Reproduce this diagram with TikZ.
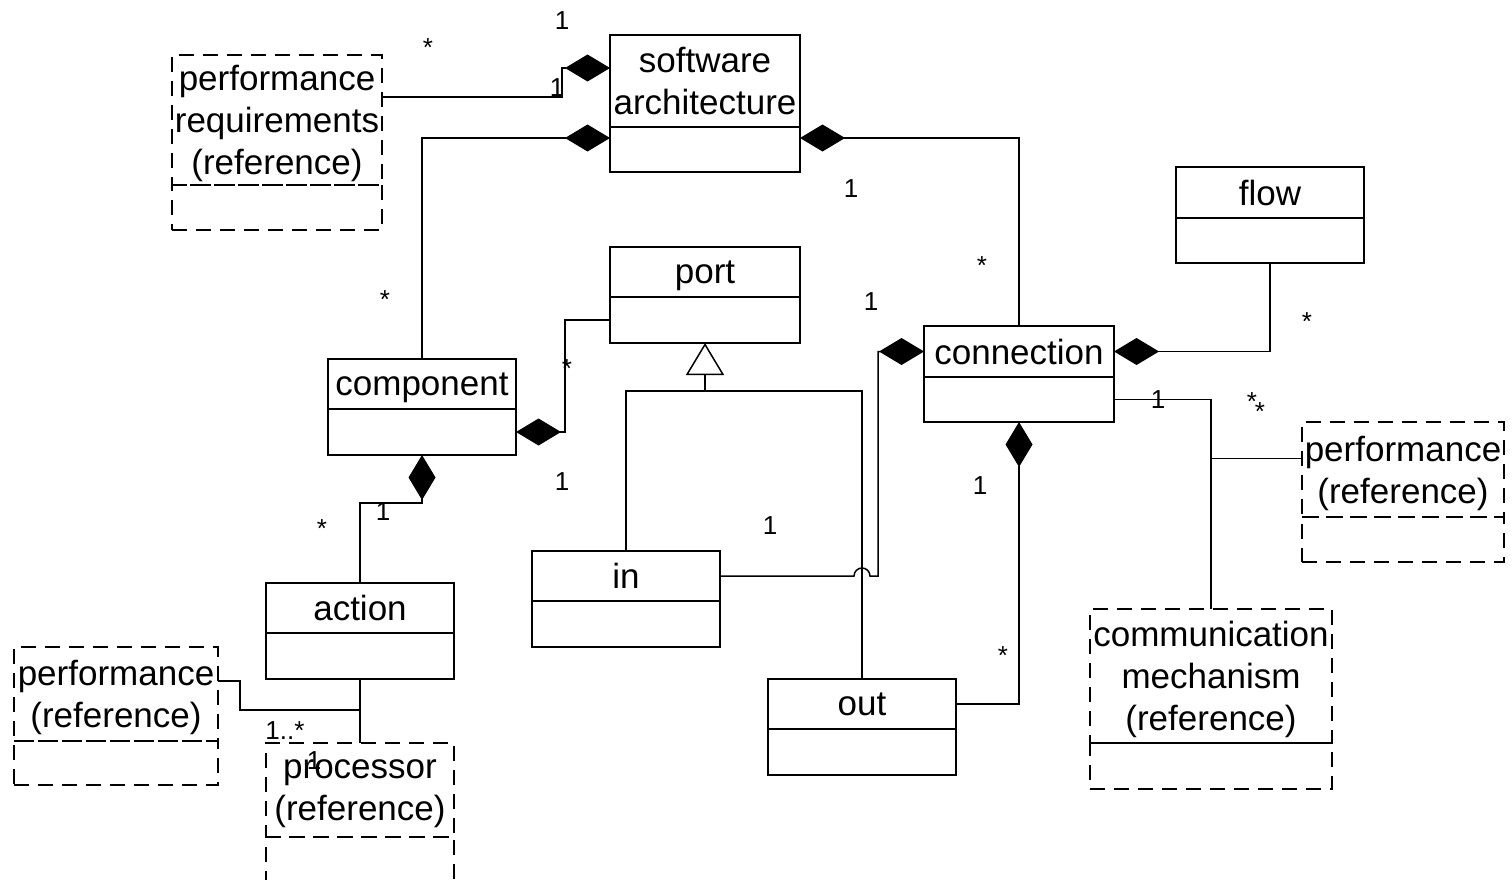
\documentclass[tikz,border=0pt]{standalone}
\usepackage{fontspec}
\setmainfont{Liberation Sans}
\usetikzlibrary{
    positioning,
    arrows.meta
}

\begin{document}
\begin{tikzpicture}
[
    x=1pt,
    y=-1pt,
    font=\fontsize{35}{42}\selectfont,
    umlclass/.style={
        rectangle,
        draw=black,
        line width=1.5pt,
        outer sep=0pt,
        inner sep=0pt,
        align=center,
        text depth=0pt,
        minimum width=188pt,
        minimum height=50pt
    },
    umlbody/.style={
        umlclass,
        minimum height=46pt
    },
    refclass/.style={
        umlclass,
        dash pattern=on 15pt off 9pt
    },
    refbody/.style={
        refclass,
        minimum height=45pt
    },
    link/.style={
        line width=1.5pt
    },
    compose/.style={
        link,
        -{Diamond[length=45pt,width=27pt]}
    },
    inherit/.style={
        link,
        -{Triangle[length=32pt,width=38pt,fill=white]}
    },
    mult/.style={
        font=\fontsize{26}{30}\selectfont,
        anchor=base,
        inner sep=0pt
    }
]

\useasboundingbox (0,0) rectangle (1512,880);


% =====================
% CLASSES
% =====================

\node[
umlclass,
minimum width=190pt,
minimum height=92pt
]
(arch) at (705,81)
{software\\architecture};

\node[
umlbody,
minimum width=190pt,
minimum height=45pt,
below=0pt of arch
]
(archB) {};


\node[
umlclass,
minimum width=190pt
]
(port) at (705,272)
{port};

\node[
umlbody,
minimum width=190pt,
below=0pt of port
]
(portB) {};


\node[
umlclass,
minimum height=51pt
]
(flow) at (1270,192.5)
{flow};

\node[
umlbody,
minimum height=45pt,
below=0pt of flow
]
(flowB) {};


\node[
umlclass,
minimum width=190pt,
minimum height=51pt
]
(conn) at (1019,351.5)
{connection};

\node[
umlbody,
minimum width=190pt,
minimum height=45pt,
below=0pt of conn
]
(connB) {};


\node[
umlclass
]
(comp) at (422,384)
{component};

\node[
umlbody,
below=0pt of comp
]
(compB) {};


\node[
umlclass
]
(action) at (360,608)
{action};

\node[
umlbody,
below=0pt of action
]
(actionB) {};


\node[
umlclass
]
(in) at (626,576)
{in};

\node[
umlbody,
below=0pt of in
]
(inB) {};


\node[
umlclass
]
(out) at (862,704)
{out};

\node[
umlbody,
below=0pt of out
]
(outB) {};



% =====================
% REFERENCES
% =====================

\node[
refclass,
minimum width=210pt,
minimum height=130pt
]
(perfreq) at (277,120)
{performance\\requirements\\(reference)};

\node[
refbody,
minimum width=210pt,
below=0pt of perfreq
]
(perfreqB) {};


\node[
refclass,
minimum width=202pt,
minimum height=95pt
]
(perfR) at (1403,469.5)
{performance\\(reference)};

\node[
refbody,
minimum width=202pt,
below=0pt of perfR
]
(perfRB) {};


\node[
refclass,
minimum width=242pt,
minimum height=134pt
]
(comm) at (1211,676)
{communication\\mechanism\\(reference)};

\node[
refbody,
minimum width=242pt,
minimum height=46pt,
below=0pt of comm
]
(commB) {};


\node[
refclass,
minimum width=204pt,
minimum height=94pt
]
(perfL) at (116,694)
{performance\\(reference)};

\node[
refbody,
minimum width=204pt,
minimum height=44pt,
below=0pt of perfL
]
(perfLB) {};


\node[
refclass,
minimum height=94pt
]
(proc) at (360,790)
{processor\\(reference)};

\node[
refbody,
minimum height=46pt,
below=0pt of proc
]
(procB) {};



% =====================
% CONNECTIONS
% =====================

\draw[compose]
([yshift=23pt]perfreq.east)
-|
([xshift=-48pt,yshift=13pt]arch.west)
--
([yshift=13pt]arch.west);


\draw[compose]
(comp.north)
|-
([yshift=11.5pt]archB.west);


\draw[compose]
(conn.north)
|-
([yshift=11.5pt]archB.east);


\draw[compose]
(flowB.south)
|-
(conn.east);


\draw[compose]
(portB.west)
--
++(-45,0)
|-
(compB.east);


\coordinate (gen) at ([yshift=-48pt]portB.south);

\draw[link]
(in.north)
|-
(gen)
-|
(out.north);

\draw[inherit]
(gen)
--
(portB.south);


\coordinate (hop) at (out.north |- in.east);

\draw[compose]
(in.east)
--
([xshift=-8pt]hop)
arc[start angle=180, end angle=360, radius=8]
--
++(8,0)
|-
(conn.west);


\draw[compose]
(out.east)
-|
(connB.south);


\draw[link]
(connB.east)
-|
(comm.north);

\coordinate (perfJ) at ([yshift=11pt]perfR.west);

\draw[link]
(perfJ)
--
(comm.north |- perfJ);


\draw[compose]
(action.north)
--
++(0,-80)
-|
(compB.south);


\draw[link]
(actionB.south)
--
(proc.north);

\draw[link]
([yshift=13pt]perfL.east)
--
++(22,0)
|-
([yshift=33pt]proc.north);



% =====================
% MULTIPLICITIES
% =====================

\node[mult] (m1) at (562,30) {1};
\node[mult] (m2) at (428,57) {*};
\node[mult] (m3) at (557,97) {1};
\node[mult] (m4) at (385,308) {*};
\node[mult] (m5) at (851,197) {1};
\node[mult] (m6) at (982,274) {*};
\node[mult] (m7) at (871,310) {1};
\node[mult] (m8) at (1307,330) {*};
\node[mult] (m9) at (567,377) {*};
\node[mult] (m10) at (562,490) {1};
\node[mult] (m11) at (770,534) {1};
\node[mult] (m12) at (980,494) {1};
\node[mult] (m13) at (1003,664) {*};
\node[mult] (m14) at (1158,408) {1};
\node[mult] (m15) at (1252,410) {*};
\node[mult] (m16) at (1260,420) {*};
\node[mult] (m17) at (322,537) {*};
\node[mult] (m18) at (383,520) {1};
\node[mult] (m19) at (285,739) {1..*};
\node[mult] (m20) at (314,769) {1};


\end{tikzpicture}
\end{document}
